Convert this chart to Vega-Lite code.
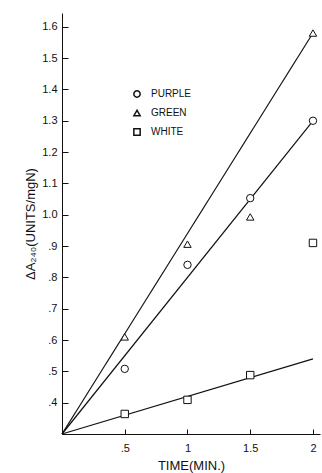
{
  "$schema": "https://vega.github.io/schema/vega-lite/v6.json",
  "width": 258,
  "height": 421,
  "autosize": "none",
  "padding": {"left": 62, "top": 13, "right": 2, "bottom": 39},
  "background": "white",
  "config": {
    "view": {"stroke": null},
    "font": "Liberation Sans",
    "axis": {
      "grid": false,
      "domainColor": "#111",
      "domainWidth": 1,
      "tickColor": "#111",
      "labelColor": "#111",
      "titleColor": "#111",
      "labelFont": "Liberation Sans",
      "titleFont": "Liberation Sans",
      "labelFontSize": 11,
      "titleFontSize": 13,
      "titleFontWeight": "normal"
    },
    "legend": {
      "labelFont": "Liberation Sans",
      "labelFontSize": 10,
      "labelColor": "#111"
    }
  },
  "datasets": {
    "fits": [
      {"series": "PURPLE", "time": 0, "value": 0.3},
      {"series": "PURPLE", "time": 2, "value": 1.3},
      {"series": "GREEN", "time": 0, "value": 0.3},
      {"series": "GREEN", "time": 2, "value": 1.58},
      {"series": "WHITE", "time": 0, "value": 0.3},
      {"series": "WHITE", "time": 2, "value": 0.54}
    ],
    "points": [
      {"series": "PURPLE", "time": 0.5, "value": 0.508},
      {"series": "PURPLE", "time": 1, "value": 0.84},
      {"series": "PURPLE", "time": 1.5, "value": 1.053},
      {"series": "PURPLE", "time": 2, "value": 1.3},
      {"series": "GREEN", "time": 0.5, "value": 0.61},
      {"series": "GREEN", "time": 1, "value": 0.906},
      {"series": "GREEN", "time": 1.5, "value": 0.993},
      {"series": "GREEN", "time": 2, "value": 1.58},
      {"series": "WHITE", "time": 0.5, "value": 0.364},
      {"series": "WHITE", "time": 1, "value": 0.409},
      {"series": "WHITE", "time": 1.5, "value": 0.488},
      {"series": "WHITE", "time": 2, "value": 0.91}
    ]
  },
  "encoding": {
    "x": {
      "field": "time",
      "type": "quantitative",
      "scale": {"domain": [0, 2.056], "nice": false, "zero": false},
      "axis": {
        "values": [0.5, 1, 1.5, 2],
        "labelExpr": "datum.value == 0.5 ? '.5' : format(datum.value, '~g')",
        "tickSize": -5,
        "labelPadding": 13,
        "title": "TIME(MIN.)",
        "titlePadding": 6
      }
    },
    "y": {
      "field": "value",
      "type": "quantitative",
      "scale": {"domain": [0.3, 1.644], "nice": false, "zero": false},
      "axis": {
        "values": [0.4, 0.5, 0.6, 0.7, 0.8, 0.9, 1.0, 1.1, 1.2, 1.3, 1.4, 1.5, 1.6],
        "labelExpr": "datum.value < 1 ? replace(format(datum.value, '.1f'), '0.', '.') : format(datum.value, '.1f')",
        "tickSize": -6,
        "labelPadding": 11,
        "title": "ΔA₂₄₀(UNITS/mgN)",
        "titlePadding": 4
      }
    }
  },
  "layer": [
    {
      "data": {"name": "fits"},
      "mark": {"type": "line", "color": "#111", "strokeWidth": 1.2},
      "encoding": {"detail": {"field": "series", "type": "nominal"}}
    },
    {
      "data": {"name": "points"},
      "mark": {"type": "point", "filled": true, "fill": "white", "stroke": "#111", "strokeWidth": 1, "size": 55, "opacity": 1},
      "encoding": {
        "shape": {
          "field": "series",
          "type": "nominal",
          "scale": {"domain": ["PURPLE", "GREEN", "WHITE"], "range": ["circle", "triangle-up", "square"]},
          "legend": {
            "title": null,
            "orient": "none",
            "legendX": 70,
            "legendY": 76,
            "symbolSize": 40,
            "rowPadding": 6,
            "labelOffset": 9,
            "encode": {
              "symbols": {
                "update": {
                  "fill": {"value": "white"},
                  "stroke": {"value": "#111"},
                  "strokeWidth": {"value": 1},
                  "opacity": {"value": 1}
                }
              }
            }
          }
        }
      }
    }
  ]
}
